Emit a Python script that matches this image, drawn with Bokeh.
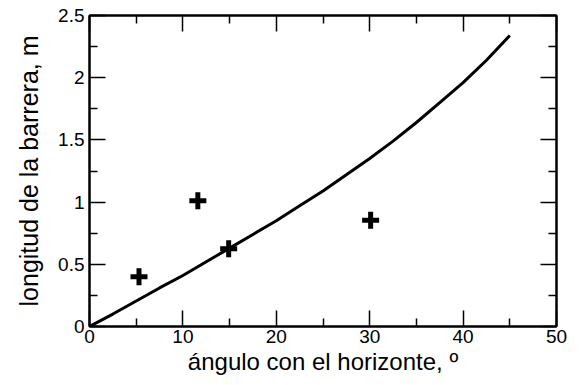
from bokeh.plotting import figure
from bokeh.models import LinearAxis, FixedTicker, Range1d
from bokeh.embed import file_html
from bokeh.resources import INLINE

# measured points (angle in degrees, barrier length in m)
angles = [5.3, 11.6, 14.9, 30.1]
lengths = [0.40, 1.01, 0.625, 0.855]

# model curve
curve_x = [0, 2.5, 5, 7.5, 10, 12.5, 15, 17.5, 20, 22.5, 25, 27.5, 30, 32.5, 35, 37.5, 40, 42.5, 45]
curve_y = [0, 0.10, 0.205, 0.31, 0.41, 0.52, 0.63, 0.74, 0.85, 0.97, 1.09, 1.22, 1.35, 1.49, 1.64, 1.80, 1.96, 2.14, 2.34]

x_major = [0, 10, 20, 30, 40, 50]
x_minor = [5, 15, 25, 35, 45]
y_major = [0, 0.5, 1, 1.5, 2, 2.5]
y_minor = [0.25, 0.75, 1.25, 1.75, 2.25]
y_tick_labels = ["0", "0.5", "1", "1.5", "2", "2.5"]
x_title = "ángulo con el horizonte, º"
y_title = "longitud de la barrera, m"

FONT = "Liberation Sans"

p = figure(width=582, height=385, output_backend="svg", toolbar_location=None,
           x_range=Range1d(0, 50), y_range=Range1d(0, 2.5),
           x_axis_label=x_title, y_axis_label=y_title)
p.min_border_left = 89
p.min_border_right = 26
p.min_border_top = 15
p.min_border_bottom = 59
p.xgrid.visible = False
p.ygrid.visible = False
p.outline_line_color = "black"
p.outline_line_width = 2
p.background_fill_color = "white"
p.border_fill_color = "white"

def style(ax, ticks, minor, labels=True):
    ax.ticker = FixedTicker(ticks=ticks, minor_ticks=minor)
    ax.major_tick_in = 16
    ax.major_tick_out = 0
    ax.minor_tick_in = 8
    ax.minor_tick_out = 0
    ax.major_tick_line_width = 1.5
    ax.minor_tick_line_width = 1.5
    ax.axis_line_width = 2
    ax.major_label_text_font = FONT
    ax.major_label_text_font_size = "19px"
    ax.major_label_text_color = "black"
    ax.axis_label_text_font = FONT
    ax.axis_label_text_font_style = "normal"
    ax.axis_label_text_color = "black"
    if not labels:
        ax.major_label_overrides = {t: "" for t in ticks}
        ax.major_label_standoff = 0

xa = p.xaxis[0]
style(xa, x_major, x_minor)
xa.major_label_standoff = 3
xa.axis_label_text_font_size = "24px"
xa.axis_label_standoff = 2

ya = p.yaxis[0]
style(ya, y_major, y_minor)
ya.major_label_overrides = {t: l for t, l in zip(y_major, y_tick_labels)}
ya.major_label_standoff = 5
ya.axis_label_text_font_size = "25px"
ya.axis_label_standoff = 12

top = LinearAxis()
style(top, x_major, x_minor, labels=False)
p.add_layout(top, "above")
right = LinearAxis()
style(right, y_major, y_minor, labels=False)
p.add_layout(right, "right")

p.line(curve_x, curve_y, line_color="black", line_width=3)
p.scatter(angles, lengths, marker="cross", size=17, line_width=5, line_color="black")

open("out.html", "w").write(file_html(p, INLINE))
